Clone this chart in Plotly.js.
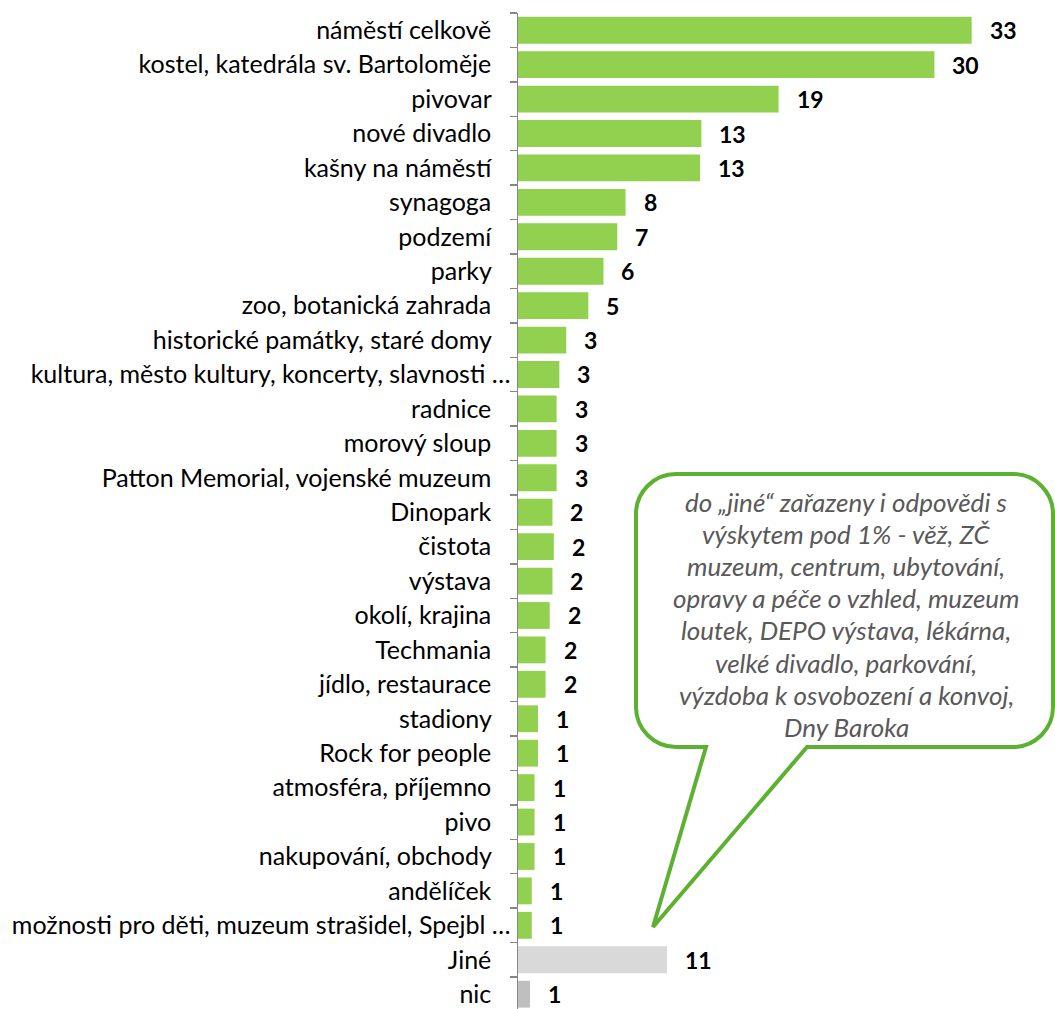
<!DOCTYPE html>
<html><head><meta charset="utf-8">
<script src="https://cdn.plot.ly/plotly-3.0.1.min.js"></script>
<style>html,body{margin:0;padding:0;background:#fff}#chart{width:1055px;height:1009px}</style>
</head><body><div id="chart"></div>
<script>
const categories = [
  "náměstí celkově",
  "kostel, katedrála sv. Bartoloměje",
  "pivovar",
  "nové divadlo",
  "kašny na náměstí",
  "synagoga",
  "podzemí",
  "parky",
  "zoo, botanická zahrada",
  "historické památky, staré domy",
  "kultura, město kultury, koncerty, slavnosti …",
  "radnice",
  "morový sloup",
  "Patton Memorial, vojenské muzeum",
  "Dinopark",
  "čistota",
  "výstava",
  "okolí, krajina",
  "Techmania",
  "jídlo, restaurace",
  "stadiony",
  "Rock for people",
  "atmosféra, příjemno",
  "pivo",
  "nakupování, obchody",
  "andělíček",
  "možnosti pro děti, muzeum strašidel, Spejbl …",
  "Jiné",
  "nic"
];
const values = [32.9, 30.2, 18.9, 13.3, 13.2, 7.8, 7.2, 6.2, 5.1, 3.5, 3.0, 2.8, 2.8, 2.8, 2.5, 2.6, 2.5, 2.3, 2.0, 2.0, 1.45, 1.45, 1.2, 1.2, 1.2, 1.0, 1.0, 10.8, 0.87];
const valueLabels = ["33","30","19","13","13","8","7","6","5","3","3","3","3","3","2","2","2","2","2","2","1","1","1","1","1","1","1","11","1"];
const calloutLines = [
  "do „jiné“ zařazeny i odpovědi s",
  "výskytem pod 1% - věž, ZČ",
  "muzeum, centrum, ubytování,",
  "opravy a péče o vzhled, muzeum",
  "loutek, DEPO výstava, lékárna,",
  "velké divadlo, parkování,",
  "výzdoba k osvobození a konvoj,",
  "Dny Baroka"
];

const W = 1055, H = 1009, L = 518, R = 13, T = 13, B = 0;
const pw = W - L - R, ph = H - T - B;
const px = x => (x - L) / pw;
const py = y => 1 - (y - T) / ph;

const colors = categories.map(c => c === "Jiné" ? "#D9D9D9" : (c === "nic" ? "#BFBFBF" : "#92D050"));

const FONT = "Lato, 'Noto Sans', sans-serif";

// truncated labels (ending with an ellipsis) overhang toward the axis, as in the source
const PAD = "\u00A0\u00A0\u00A0";
const tickText = categories.map(c => c.endsWith("…") ? c : c + PAD);

const trace = {
  type: "bar",
  orientation: "h",
  y: categories,
  x: values,
  marker: {color: colors},
  width: 0.78,
  hoverinfo: "none"
};

const annotations = categories.map((c, i) => ({
  x: values[i], y: c, xref: "x", yref: "y",
  text: "<b>" + valueLabels[i] + "</b>",
  showarrow: false, xanchor: "left", yanchor: "middle", xshift: 16,
  font: {family: FONT, size: 23, color: "#000000"}
}));

// callout geometry (pixels)
const cl = 636, cr = 1053, ct = 474, cb = 747, rad = 40, k = 0.5523;
const tailR = 807, tailL = 706, tipX = 653, tipY = 927;
const P = (x, y) => px(x).toFixed(5) + "," + py(y).toFixed(5);
const path = [
  "M" + P(cl + rad, ct),
  "L" + P(cr - rad, ct),
  "C" + P(cr - rad + rad * k, ct) + " " + P(cr, ct + rad - rad * k) + " " + P(cr, ct + rad),
  "L" + P(cr, cb - rad),
  "C" + P(cr, cb - rad + rad * k) + " " + P(cr - rad + rad * k, cb) + " " + P(cr - rad, cb),
  "L" + P(tailR, cb),
  "L" + P(tipX, tipY),
  "L" + P(tailL, cb),
  "L" + P(cl + rad, cb),
  "C" + P(cl + rad - rad * k, cb) + " " + P(cl, cb - rad + rad * k) + " " + P(cl, cb - rad),
  "L" + P(cl, ct + rad),
  "C" + P(cl, ct + rad - rad * k) + " " + P(cl + rad - rad * k, ct) + " " + P(cl + rad, ct),
  "Z"
].join(" ");

calloutLines.forEach((t, i) => {
  annotations.push({
    x: px(846), y: py(502 + i * 32.1), xref: "paper", yref: "paper",
    text: "<i>" + t + "</i>", showarrow: false, xanchor: "center", yanchor: "middle",
    font: {family: FONT, size: 26, color: "#595959"}
  });
});

const layout = {
  width: W, height: H,
  margin: {l: L, r: R, t: T, b: B, pad: 0},
  paper_bgcolor: "#ffffff", plot_bgcolor: "#ffffff",
  showlegend: false,
  bargap: 0.22,
  xaxis: {visible: false, range: [0, 38], showgrid: false, zeroline: false, fixedrange: true},
  yaxis: {
    type: "category",
    range: [28.5 - 2.4 / 34.43, -0.5],
    tickmode: "array", tickvals: categories, ticktext: tickText,
    showline: true, linecolor: "#868686", linewidth: 1.5,
    ticks: "outside", ticklen: 7, tickcolor: "#868686", tickwidth: 1.5,
    tickson: "boundaries",
    ticklabelstandoff: 1,
    tickfont: {family: FONT, size: 25, color: "#000000"},
    showgrid: false, zeroline: false, automargin: false
  },
  shapes: [{
    type: "path", xref: "paper", yref: "paper", path: path,
    fillcolor: "#ffffff", line: {color: "#5DB132", width: 4}, layer: "above"
  }],
  annotations: annotations
};

Plotly.newPlot("chart", [trace], layout, {displayModeBar: false, staticPlot: true});
</script>
</body></html>
